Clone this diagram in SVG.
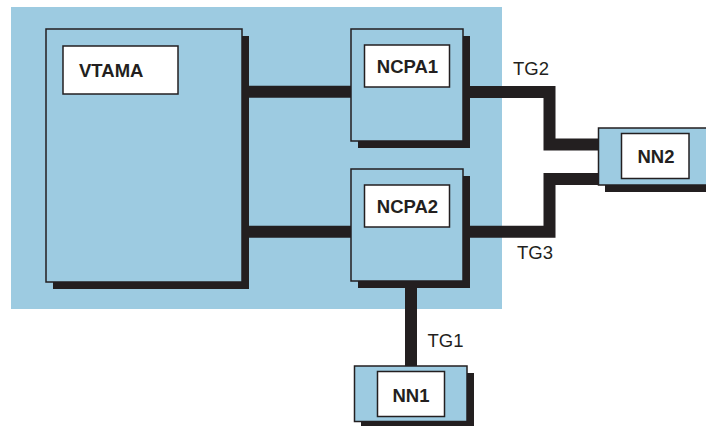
<svg xmlns="http://www.w3.org/2000/svg" width="706" height="427" viewBox="0 0 706 427">
<style>
.bg{fill:#9dcbe1}
.shadow{fill:#231f20}
.box{fill:#9dcbe1;stroke:#231f20;stroke-width:1.5}
.lbl{fill:#ffffff;stroke:#231f20;stroke-width:1.5}
.name{font-family:"Liberation Sans",Arial,sans-serif;font-weight:bold;font-size:18.5px;fill:#231f20}
.tg{font-family:"Liberation Sans",Arial,sans-serif;font-size:18.5px;fill:#231f20}
.link{fill:none;stroke:#231f20;stroke-width:12;stroke-linejoin:miter}
</style>
<rect class="bg" x="11" y="7" width="491" height="302"/>
<g id="connectors">
<line class="link" x1="242" y1="91.7" x2="352" y2="91.7"/>
<line class="link" x1="242" y1="231.7" x2="352" y2="231.7"/>
<polyline class="link" points="462,92 549.5,92 549.5,144.5 599,144.5"/>
<polyline class="link" points="462,231.7 549.5,231.7 549.5,179 599,179"/>
<line class="link" x1="411" y1="280" x2="411" y2="367"/>
</g>
<g id="VTAMA">
<rect class="shadow" x="53" y="36" width="196" height="253"/>
<rect class="box" x="46" y="29" width="196" height="253"/>
<rect class="lbl" x="63" y="46" width="115" height="48"/>
<text class="name" x="79" y="77">VTAMA</text>
</g>
<g id="NCPA1">
<rect class="shadow" x="358" y="36" width="112" height="112"/>
<rect class="box" x="351" y="29" width="112" height="112"/>
<rect class="lbl" x="364.5" y="45" width="85" height="42"/>
<text class="name" x="407.5" y="73.3" text-anchor="middle">NCPA1</text>
</g>
<g id="NCPA2">
<rect class="shadow" x="358" y="176" width="112" height="112"/>
<rect class="box" x="351" y="169" width="112" height="112"/>
<rect class="lbl" x="364.5" y="185" width="85" height="42"/>
<text class="name" x="407.5" y="213.3" text-anchor="middle">NCPA2</text>
</g>
<g id="NN2">
<rect class="shadow" x="605" y="134.5" width="110" height="57.5"/>
<rect class="box" x="598.5" y="128" width="115" height="57"/>
<rect class="lbl" x="621.5" y="133.5" width="67.5" height="45"/>
<text class="name" x="656" y="162.7" text-anchor="middle">NN2</text>
</g>
<g id="NN1">
<rect class="shadow" x="361" y="373" width="113" height="53"/>
<rect class="box" x="354.5" y="366" width="112.5" height="55.5"/>
<rect class="lbl" x="377.5" y="371.5" width="67" height="45"/>
<text class="name" x="411" y="401.7" text-anchor="middle">NN1</text>
</g>
<g id="labels">
<text class="tg" x="513" y="75">TG2</text>
<text class="tg" x="517" y="259.3">TG3</text>
<text class="tg" x="427.5" y="347.3">TG1</text>
</g>
</svg>
